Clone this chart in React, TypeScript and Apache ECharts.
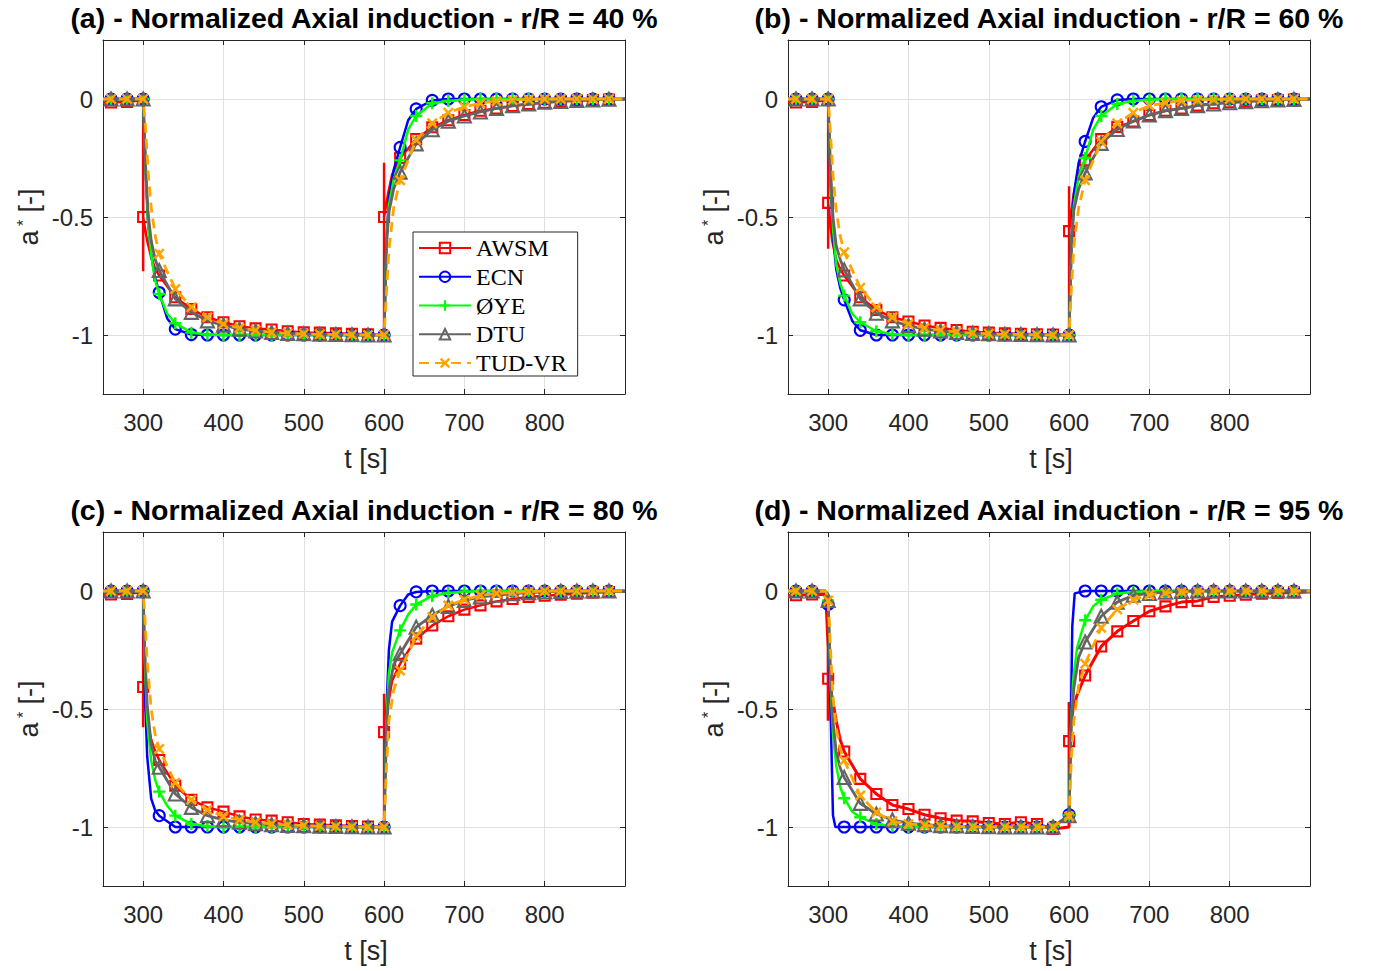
import React, { useEffect, useRef } from 'react';
import * as echarts from 'echarts';

// Marker times [s]
const T = [260, 280, 300, 320, 340, 360, 380, 400, 420, 440, 460, 480, 500, 520, 540, 560, 580,
  600, 620, 640, 660, 680, 700, 720, 740, 760, 780, 800, 820, 840, 860, 880];

const NAMES = ['AWSM', 'ECN', 'ØYE', 'DTU', 'TUD-VR'];
const TITLES = [
  '(a) - Normalized Axial induction - r/R = 40 %',
  '(b) - Normalized Axial induction - r/R = 60 %',
  '(c) - Normalized Axial induction - r/R = 80 %',
  '(d) - Normalized Axial induction - r/R = 95 %',
];
const X_TICKS = [300, 400, 500, 600, 700, 800];
const Y_TICKS = [0, -0.5, -1];

// ---------- r/R = 40 % ----------
const R40_AWSM = [-0.015, -0.012, -0.5, -0.748, -0.84, -0.89, -0.925, -0.946, -0.963, -0.972, -0.977, -0.984, -0.989, -0.99, -0.993, -0.995, -0.997,
  -0.5, -0.25, -0.17, -0.12, -0.09, -0.068, -0.05, -0.04, -0.03, -0.021, -0.016, -0.01, -0.007, -0.004, -0.002];
const R40_ECN = [0, 0, 0, -0.82, -0.975, -0.998, -1, -1, -1, -1, -1, -1, -1, -1, -1, -1, -1,
  -1, -0.205, -0.042, -0.006, 0, 0, 0, 0, 0, 0, 0, 0, 0, 0, 0];
const R40_OYE = [0, 0, 0, -0.826, -0.95, -0.99, -0.998, -1, -1, -1, -1, -1, -1, -1, -1, -1, -1,
  -1, -0.26, -0.072, -0.018, -0.008, -0.003, 0, 0, 0, 0, 0, 0, 0, 0, 0];
const R40_DTU = [0, 0, 0, -0.727, -0.847, -0.904, -0.94, -0.958, -0.975, -0.983, -0.989, -0.993, -0.995, -0.997, -0.998, -0.999, -1,
  -1, -0.31, -0.19, -0.13, -0.094, -0.072, -0.055, -0.04, -0.028, -0.021, -0.014, -0.01, -0.006, -0.004, -0.001];
const R40_TUD = [0, 0, 0, -0.656, -0.805, -0.882, -0.925, -0.953, -0.97, -0.98, -0.989, -0.993, -0.995, -0.997, -0.998, -0.999, -1,
  -1, -0.344, -0.174, -0.103, -0.058, -0.033, -0.018, -0.008, -0.004, -0.002, 0, 0, 0, 0, 0];
// extra (unmarked) points of the lines between markers
const R40_AWSM_X = [[250, -0.015], [300, -0.005], [300, -0.73], [305, -0.6], [310, -0.67], [315, -0.72], [600, -1], [600, -0.27], [605, -0.4], [610, -0.32], [900, 0]];
const R40_ECN_X = [[250, 0], [303, -0.3], [306, -0.52], [310, -0.66], [315, -0.76], [330, -0.93], [603, -0.6], [606, -0.42], [612, -0.3], [630, -0.09], [900, 0]];
const R40_OYE_X = [[250, 0], [303, -0.3], [306, -0.52], [310, -0.66], [315, -0.77], [330, -0.91], [603, -0.6], [606, -0.45], [612, -0.34], [630, -0.13], [900, 0]];
const R40_DTU_X = [[250, 0], [303, -0.28], [306, -0.48], [310, -0.6], [315, -0.68], [603, -0.62], [606, -0.48], [612, -0.38], [900, 0]];
const R40_TUD_X = [[250, 0], [303, -0.12], [306, -0.3], [310, -0.46], [315, -0.58], [603, -0.82], [606, -0.64], [612, -0.46], [900, 0]];

// ---------- r/R = 60 % ----------
const R60_AWSM = [-0.015, -0.012, -0.44, -0.748, -0.84, -0.894, -0.925, -0.943, -0.96, -0.97, -0.979, -0.986, -0.99, -0.993, -0.995, -0.997, -0.998,
  -0.56, -0.26, -0.17, -0.118, -0.096, -0.068, -0.05, -0.04, -0.028, -0.018, -0.014, -0.01, -0.007, -0.004, -0.002];
const R60_ECN = [0, 0, 0, -0.851, -0.98, -1, -1, -1, -1, -1, -1, -1, -1, -1, -1, -1, -1,
  -1, -0.18, -0.033, -0.004, 0, 0, 0, 0, 0, 0, 0, 0, 0, 0, 0];
const R60_OYE = [0, 0, 0, -0.833, -0.946, -0.984, -0.997, -1, -1, -1, -1, -1, -1, -1, -1, -1, -1,
  -1, -0.25, -0.072, -0.021, -0.008, -0.003, 0, 0, 0, 0, 0, 0, 0, 0, 0];
const R60_DTU = [0, 0, 0, -0.724, -0.847, -0.908, -0.94, -0.96, -0.975, -0.983, -0.989, -0.993, -0.995, -0.997, -0.998, -0.999, -1,
  -1, -0.313, -0.188, -0.129, -0.093, -0.068, -0.05, -0.04, -0.028, -0.021, -0.016, -0.011, -0.007, -0.004, -0.002];
const R60_TUD = [0, 0, 0, -0.649, -0.8, -0.882, -0.925, -0.953, -0.97, -0.98, -0.987, -0.992, -0.995, -0.997, -0.998, -0.999, -1,
  -1, -0.344, -0.181, -0.103, -0.058, -0.028, -0.016, -0.007, -0.004, -0.002, 0, 0, 0, 0, 0];
const R60_AWSM_X = [[250, -0.015], [300, -0.005], [300, -0.635], [305, -0.6], [310, -0.68], [315, -0.72], [600, -1], [600, -0.37], [605, -0.42], [610, -0.33], [900, 0]];
const R60_ECN_X = [[250, 0], [303, -0.35], [306, -0.58], [310, -0.72], [315, -0.8], [330, -0.94], [603, -0.6], [606, -0.4], [612, -0.27], [630, -0.08], [900, 0]];
const R60_OYE_X = [[250, 0], [303, -0.33], [306, -0.55], [310, -0.7], [315, -0.78], [330, -0.91], [603, -0.6], [606, -0.45], [612, -0.33], [630, -0.13], [900, 0]];
const R60_DTU_X = [[250, 0], [303, -0.3], [306, -0.5], [310, -0.62], [315, -0.68], [603, -0.62], [606, -0.47], [612, -0.38], [900, 0]];
const R60_TUD_X = [[250, 0], [303, -0.15], [306, -0.32], [310, -0.47], [315, -0.58], [603, -0.8], [606, -0.62], [612, -0.46], [900, 0]];

// ---------- r/R = 80 % ----------
const R80_AWSM = [-0.015, -0.012, -0.407, -0.716, -0.825, -0.885, -0.917, -0.935, -0.955, -0.968, -0.973, -0.98, -0.987, -0.99, -0.993, -0.996, -0.998,
  -0.598, -0.308, -0.202, -0.146, -0.107, -0.079, -0.061, -0.044, -0.034, -0.025, -0.02, -0.016, -0.011, -0.007, -0.004];
const R80_ECN = [0, 0, 0, -0.952, -1, -1, -1, -1, -1, -1, -1, -1, -1, -1, -1, -1, -1,
  -1, -0.062, -0.004, 0, 0, 0, 0, 0, 0, 0, 0, 0, 0, 0, 0];
const R80_OYE = [0, 0, 0, -0.85, -0.952, -0.987, -0.997, -1, -1, -1, -1, -1, -1, -1, -1, -1, -1,
  -1, -0.167, -0.057, -0.021, -0.008, -0.003, 0, 0, 0, 0, 0, 0, 0, 0, 0];
const R80_DTU = [0, 0, 0, -0.747, -0.86, -0.917, -0.952, -0.97, -0.98, -0.986, -0.99, -0.993, -0.995, -0.997, -0.998, -0.999, -1,
  -1, -0.266, -0.153, -0.103, -0.065, -0.04, -0.025, -0.018, -0.011, -0.007, -0.004, -0.002, 0, 0, 0];
const R80_TUD = [0, 0, 0, -0.669, -0.813, -0.885, -0.928, -0.955, -0.97, -0.98, -0.987, -0.991, -0.994, -0.996, -0.998, -0.999, -1,
  -1, -0.337, -0.192, -0.11, -0.061, -0.037, -0.018, -0.011, -0.006, -0.003, 0, 0, 0, 0, 0];
const R80_AWSM_X = [[250, -0.015], [300, -0.005], [300, -0.577], [305, -0.55], [310, -0.63], [315, -0.68], [600, -1], [600, -0.435], [605, -0.48], [610, -0.38], [900, -0.002]];
const R80_ECN_X = [[250, 0], [302, -0.4], [305, -0.7], [310, -0.88], [315, -0.93], [603, -0.5], [606, -0.25], [610, -0.13], [630, -0.015], [900, 0]];
const R80_OYE_X = [[250, 0], [302, -0.3], [305, -0.55], [310, -0.72], [315, -0.8], [330, -0.91], [603, -0.55], [606, -0.35], [610, -0.26], [630, -0.1], [900, 0]];
const R80_DTU_X = [[250, 0], [302, -0.25], [305, -0.48], [310, -0.65], [315, -0.72], [603, -0.6], [606, -0.42], [612, -0.31], [900, 0]];
const R80_TUD_X = [[250, 0], [302, -0.1], [305, -0.3], [310, -0.5], [315, -0.61], [603, -0.75], [606, -0.55], [612, -0.42], [900, 0]];

// ---------- r/R = 95 % ----------
const R95_AWSM = [-0.018, -0.015, -0.372, -0.68, -0.796, -0.86, -0.907, -0.924, -0.948, -0.963, -0.973, -0.976, -0.983, -0.987, -0.98, -0.987, -1.008,
  -0.636, -0.358, -0.235, -0.171, -0.127, -0.086, -0.065, -0.047, -0.042, -0.025, -0.02, -0.016, -0.011, -0.008, -0.006];
const R95_ECN = [0, 0, -0.057, -1, -1, -1, -1, -1, -1, -1, -1, -1, -1, -1, -1, -1, -1,
  -0.948, 0, 0, 0, 0, 0, 0, 0, 0, 0, 0, 0, 0, 0, 0];
const R95_OYE = [0, 0, -0.04, -0.878, -0.959, -0.987, -0.997, -1, -1, -1, -1, -1, -1, -1, -1, -1, -1,
  -0.95, -0.124, -0.037, -0.011, -0.004, 0, 0, 0, 0, 0, 0, 0, 0, 0, 0];
const R95_DTU = [0, 0, -0.04, -0.79, -0.9, -0.945, -0.97, -0.984, -0.99, -0.994, -0.996, -0.998, -0.999, -1, -1, -1, -1,
  -0.952, -0.216, -0.107, -0.047, -0.018, -0.01, -0.005, -0.002, 0, 0, 0, 0, 0, 0, 0];
const R95_TUD = [0, 0, -0.04, -0.718, -0.867, -0.938, -0.976, -0.987, -0.993, -0.996, -0.998, -0.999, -1, -1, -1, -1, -1,
  -0.955, -0.308, -0.156, -0.078, -0.037, -0.016, -0.008, -0.004, -0.002, 0, 0, 0, 0, 0, 0];
const R95_AWSM_X = [[250, -0.02], [297, -0.015], [300, -0.24], [300, -0.55], [305, -0.45], [310, -0.55], [315, -0.63], [600, -1], [600, -0.47], [605, -0.5], [610, -0.44], [900, -0.004]];
const R95_ECN_X = [[250, 0], [297, 0], [303, -0.5], [306, -0.95], [309, -1], [602, -0.6], [604, -0.15], [607, -0.01], [900, 0]];
const R95_OYE_X = [[250, 0], [297, 0], [303, -0.4], [306, -0.6], [310, -0.74], [315, -0.83], [330, -0.935], [602, -0.6], [605, -0.38], [610, -0.24], [630, -0.065], [900, 0]];
const R95_DTU_X = [[250, 0], [297, 0], [303, -0.35], [306, -0.55], [310, -0.68], [315, -0.75], [603, -0.55], [606, -0.41], [612, -0.28], [900, 0]];
const R95_TUD_X = [[250, 0], [297, 0], [303, -0.25], [306, -0.45], [310, -0.58], [315, -0.67], [603, -0.7], [606, -0.55], [612, -0.4], [900, 0]];

const PANEL_VALUES = [
  [R40_AWSM, R40_ECN, R40_OYE, R40_DTU, R40_TUD],
  [R60_AWSM, R60_ECN, R60_OYE, R60_DTU, R60_TUD],
  [R80_AWSM, R80_ECN, R80_OYE, R80_DTU, R80_TUD],
  [R95_AWSM, R95_ECN, R95_OYE, R95_DTU, R95_TUD],
];
const PANEL_EXTRAS = [
  [R40_AWSM_X, R40_ECN_X, R40_OYE_X, R40_DTU_X, R40_TUD_X],
  [R60_AWSM_X, R60_ECN_X, R60_OYE_X, R60_DTU_X, R60_TUD_X],
  [R80_AWSM_X, R80_ECN_X, R80_OYE_X, R80_DTU_X, R80_TUD_X],
  [R95_AWSM_X, R95_ECN_X, R95_OYE_X, R95_DTU_X, R95_TUD_X],
];

const PLUS = 'path://M4,0H6V4H10V6H6V10H4V6H0V4H4Z';
const CROSS = 'path://M0,1.6L1.6,0L5,3.4L8.4,0L10,1.6L6.6,5L10,8.4L8.4,10L5,6.6L1.6,10L0,8.4L3.4,5Z';

const STYLES = [
  { color: '#ff0000', symbol: 'rect', size: 10, hollow: true, width: 2.5, dash: 'solid' },
  { color: '#0000ff', symbol: 'circle', size: 11, hollow: true, width: 2.5, dash: 'solid' },
  { color: '#00ff00', symbol: PLUS, size: 12, hollow: false, width: 2.5, dash: 'solid' },
  { color: '#646464', symbol: 'triangle', size: 13, hollow: true, width: 2.8, dash: 'solid' },
  { color: '#ffa500', symbol: CROSS, size: 11, hollow: false, width: 2.8, dash: [10, 6] },
];

const SANS = '"Liberation Sans", Arial, Helvetica, sans-serif';
const SERIF = '"Liberation Serif", "Times New Roman", serif';
const AX = '#262626';

const GRID_LEFT = [103, 788, 103, 788];
const GRID_TOP = [40, 40, 532, 532];
const GW = 522;
const GH = 354;

function buildData(vals: number[], extras: number[][]) {
  const pts = [
    ...extras.map(([t, a]) => ({ t, a, m: false })),
    ...T.map((t, i) => ({ t, a: vals[i], m: true })),
  ];
  pts.sort((p, q) => p.t - q.t);
  return pts.map((p) => (p.m ? [p.t, p.a] : { value: [p.t, p.a], symbol: 'none' }));
}

function buildOption() {
  const grid: any[] = [];
  const xAxis: any[] = [];
  const yAxis: any[] = [];
  const series: any[] = [];
  const graphic: any[] = [];

  for (let k = 0; k < 4; k++) {
    const L = GRID_LEFT[k];
    const Tp = GRID_TOP[k];
    grid.push({ left: L, top: Tp, width: GW, height: GH, containLabel: false });
    const tick = { show: true, inside: true, length: 5, lineStyle: { color: AX, width: 1 } };
    const line = { show: true, onZero: false, lineStyle: { color: AX, width: 1 } };
    xAxis.push({
      type: 'value', gridIndex: k, position: 'bottom', min: 250, max: 900, minInterval: 100, maxInterval: 100,
      axisLine: line, axisTick: tick,
      axisLabel: {
        fontSize: 24, fontFamily: SANS, color: AX, margin: 16,
        formatter: (v: number) => (X_TICKS.indexOf(v) >= 0 ? String(v) : ''),
      },
      splitLine: { show: true, showMinLine: false, showMaxLine: false, lineStyle: { color: '#e0e0e0', width: 1 } },
    });
    xAxis.push({
      type: 'value', gridIndex: k, position: 'top', min: 250, max: 900, minInterval: 100, maxInterval: 100,
      axisLine: line, axisTick: tick, axisLabel: { show: false }, splitLine: { show: false },
    });
    yAxis.push({
      type: 'value', gridIndex: k, position: 'left', min: -1.25, max: 0.25, minInterval: 0.5, maxInterval: 0.5,
      axisLine: line, axisTick: tick,
      axisLabel: {
        fontSize: 24, fontFamily: SANS, color: AX, margin: 10,
        formatter: (v: number) => (Y_TICKS.some((y) => Math.abs(y - v) < 1e-9) ? String(v) : ''),
      },
      splitLine: { show: true, showMinLine: false, showMaxLine: false, lineStyle: { color: '#e0e0e0', width: 1 } },
    });
    yAxis.push({
      type: 'value', gridIndex: k, position: 'right', min: -1.25, max: 0.25, minInterval: 0.5, maxInterval: 0.5,
      axisLine: line, axisTick: tick, axisLabel: { show: false }, splitLine: { show: false },
    });

    for (let s = 0; s < 5; s++) {
      const st = STYLES[s];
      series.push({
        type: 'line',
        name: NAMES[s],
        xAxisIndex: 2 * k,
        yAxisIndex: 2 * k,
        data: buildData(PANEL_VALUES[k][s], PANEL_EXTRAS[k][s]),
        symbol: st.symbol,
        symbolSize: st.size,
        showAllSymbol: true,
        clip: true,
        lineStyle: { color: st.color, width: k === 3 && s === 0 ? 3 : st.width, type: st.dash },
        itemStyle: st.hollow
          ? { color: 'rgba(255,255,255,0)', borderColor: st.color, borderWidth: 2.1 }
          : { color: st.color, borderWidth: 0 },
        emphasis: { disabled: true },
        z: 2 + s,
      });
    }

    const cx = L + GW / 2;
    graphic.push({
      type: 'text', x: cx, y: Tp - 22,
      style: { text: TITLES[k], fontFamily: SANS, fontSize: 28.5, fontWeight: 'bold', fill: '#000', align: 'center', verticalAlign: 'middle' },
    });
    graphic.push({
      type: 'text', x: cx + 2, y: Tp + 419,
      style: { text: 't [s]', fontFamily: SANS, fontSize: 27, fill: AX, align: 'center', verticalAlign: 'middle' },
    });
    graphic.push({
      type: 'text', x: L - 74, y: Tp + 177, rotation: Math.PI / 2,
      style: {
        text: '{n|a}{s| *}{n| [-]}',
        align: 'center', verticalAlign: 'middle',
        rich: {
          n: { fontFamily: SANS, fontSize: 27, fill: AX, verticalAlign: 'bottom' },
          s: { fontFamily: SANS, fontSize: 16, fill: AX, verticalAlign: 'top' },
        },
      },
    });
  }

  return {
    animation: false,
    backgroundColor: '#ffffff',
    grid, xAxis, yAxis, series, graphic,
    legend: {
      data: NAMES,
      orient: 'vertical',
      left: 413, top: 232,
      padding: [3, 11, 0, 5],
      itemGap: 2.75,
      itemWidth: 52,
      itemHeight: 13,
      backgroundColor: '#ffffff',
      borderColor: AX,
      borderWidth: 1,
      borderRadius: 0,
      selectedMode: false,
      textStyle: { fontFamily: SERIF, fontSize: 24, color: '#000', lineHeight: 26 },
    },
  };
}

export default function App() {
  const ref = useRef<HTMLDivElement>(null);
  useEffect(() => {
    document.body.style.margin = '0';
    const chart = echarts.init(ref.current!, undefined, { renderer: 'svg' });
    chart.setOption(buildOption() as any);
    return () => chart.dispose();
  }, []);
  return <div ref={ref} style={{ width: 1374, height: 971, overflow: 'hidden' }} />;
}
